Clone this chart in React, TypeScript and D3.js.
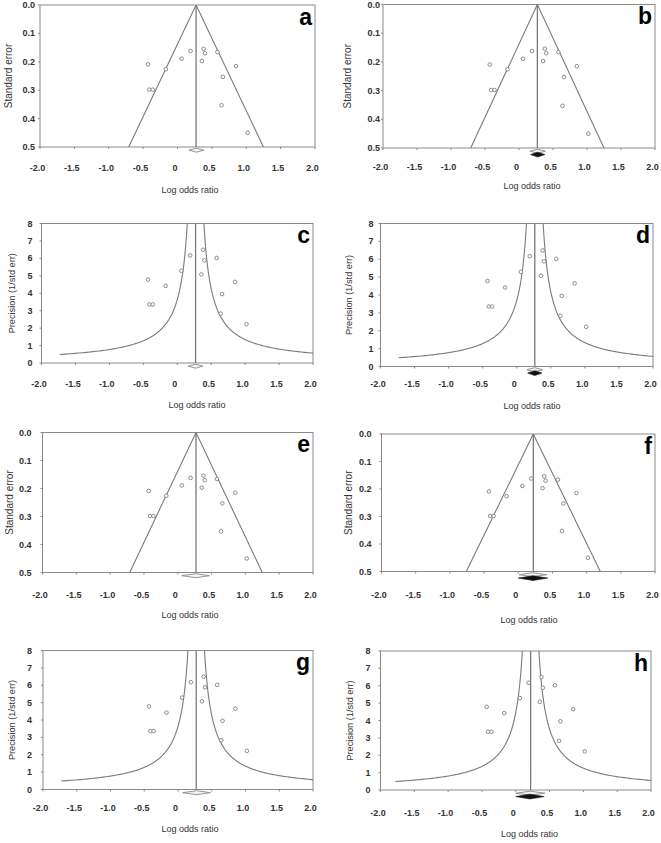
import React from "react";
import * as d3 from "d3";

// ---- data ----
const studyLogOddsRatio = [-0.43, -0.17, -0.41, -0.36, 0.06, 0.19, 0.38, 0.40, 0.355, 0.58, 0.85, 0.66, 0.64, 1.02];
const studyStdError = [0.209, 0.226, 0.298, 0.298, 0.189, 0.162, 0.154, 0.170, 0.197, 0.166, 0.215, 0.253, 0.353, 0.450];

const xTicks = [-2, -1.5, -1, -0.5, 0, 0.5, 1, 1.5, 2];
const xTickLabels = ["-2.0", "-1.5", "-1.0", "-0.5", "0", "0.5", "1.0", "1.5", "2.0"];
const seTicks = [0, 0.1, 0.2, 0.3, 0.4, 0.5];
const seTickLabels = ["0.0", "0.1", "0.2", "0.3", "0.4", "0.5"];
const precTicks = [0, 1, 2, 3, 4, 5, 6, 7, 8];
const precTickLabels = ["0", "1", "2", "3", "4", "5", "6", "7", "8"];

const panelLetters = ["a", "b", "c", "d", "e", "f", "g", "h"];
const panelTypes = ["se", "se", "prec", "prec", "se", "se", "prec", "prec"];
const pooledEstimate = [0.27, 0.27, 0.27, 0.265, 0.27, 0.22, 0.27, 0.22];
const observedCI = [[0.165, 0.385], [0.16, 0.39], [0.16, 0.38], [0.15, 0.38], [0.06, 0.47], [0.01, 0.415], [0.07, 0.48], [0.0, 0.43]];
const adjustedCI = [null, [0.17, 0.38], null, [0.16, 0.37], null, [0.0, 0.43], null, [0.0, 0.42]];

const xTitle = "Log odds ratio";
const seTitle = "Standard error";
const precTitle = "Precision (1/std err)";

// ---- layout (pixel positions per panel) ----
const layout = [
  { L: 40, T: 5, R: 315, B: 147, tickY: 168, titleX: 190, titleY: 190, ylabX: 8, gap: 5 },
  { L: 383, T: 4.5, R: 655, B: 148, tickY: 167, titleX: 532, titleY: 186, ylabX: 347, gap: 3 },
  { L: 41.5, T: 223.5, R: 313, B: 363, tickY: 384, titleX: 197, titleY: 405, ylabX: 12, gap: 9 },
  { L: 380.5, T: 223.5, R: 653, B: 366.5, tickY: 384, titleX: 532, titleY: 406, ylabX: 349, gap: 7 },
  { L: 42.5, T: 432.5, R: 313, B: 572.5, tickY: 595, titleX: 190, titleY: 615, ylabX: 9, gap: 11 },
  { L: 381.5, T: 434, R: 655, B: 571.5, tickY: 595, titleX: 529, titleY: 620, ylabX: 348, gap: 10 },
  { L: 43, T: 650.5, R: 313, B: 789.5, tickY: 808, titleX: 190, titleY: 829, ylabX: 12, gap: 11 },
  { L: 380.5, T: 651, R: 651, B: 790, tickY: 813, titleX: 529.5, titleY: 834, ylabX: 350, gap: 10 },
];

const FONT = "'Liberation Sans', Arial, sans-serif";
const LINE = "#7a7a7a";
const FRAME = "#8a8a8a";
const TEXT = "#333";

function diamondPath(x: d3.ScaleLinear<number, number>, lo: number, hi: number, y: number, h: number) {
  const mid = (lo + hi) / 2;
  return `M${x(lo)},${y}L${x(mid)},${y - h}L${x(hi)},${y}L${x(mid)},${y + h}Z`;
}

function Panel({ i }: { i: number }) {
  const lay = layout[i];
  const type = panelTypes[i];
  const c = pooledEstimate[i];
  const x = d3.scaleLinear().domain([-2, 2]).range([lay.L, lay.R]);
  const y =
    type === "se"
      ? d3.scaleLinear().domain([0, 0.5]).range([lay.T, lay.B])
      : d3.scaleLinear().domain([0, 8]).range([lay.B, lay.T]);
  const ticks = type === "se" ? seTicks : precTicks;
  const tickLabels = type === "se" ? seTickLabels : precTickLabels;
  const clipId = `clip-${i}`;

  let funnel: string[] = [];
  if (type === "se") {
    const line = d3.line<[number, number]>().x((d) => x(d[0])).y((d) => y(d[1]));
    funnel = [line([[c - 1.96 * 0.5, 0.5], [c, 0], [c + 1.96 * 0.5, 0.5]]) || ""];
  } else {
    const ps = d3.range(0.49, 8.6, 0.02);
    const k = 0.98;
    const left = d3.line<number>().x((p) => x(c - k / p)).y((p) => y(p));
    const right = d3.line<number>().x((p) => x(c + k / p)).y((p) => y(p));
    funnel = [left(ps) || "", right(ps) || ""];
  }

  const points = studyLogOddsRatio.map((lor, j) => ({
    cx: x(lor),
    cy: type === "se" ? y(studyStdError[j]) : y(1 / studyStdError[j]),
  }));

  const obs = observedCI[i];
  const adj = adjustedCI[i];

  return (
    <g>
      <defs>
        <clipPath id={clipId}>
          <rect x={lay.L} y={lay.T} width={lay.R - lay.L} height={lay.B - lay.T} />
        </clipPath>
      </defs>
      <rect x={lay.L} y={lay.T} width={lay.R - lay.L} height={lay.B - lay.T} fill="white" stroke={FRAME} strokeWidth={1} />
      {xTicks.map((t, j) => (
        <g key={"xt" + j}>
          <line x1={x(t)} x2={x(t)} y1={lay.B} y2={lay.B + 2} stroke={FRAME} strokeWidth={1} />
          <text x={x(t) - 2.5} y={lay.tickY} textAnchor="middle" dominantBaseline="central" fontFamily={FONT} fontSize={9} fontWeight="bold" fill={TEXT}>
            {xTickLabels[j]}
          </text>
        </g>
      ))}
      {ticks.map((t, j) => (
        <g key={"yt" + j}>
          <line x1={lay.L - 2} x2={lay.L} y1={y(t)} y2={y(t)} stroke={FRAME} strokeWidth={1} />
          <text x={lay.L - lay.gap} y={y(t)} textAnchor="end" dominantBaseline="central" fontFamily={FONT} fontSize={9} fontWeight="bold" fill={TEXT}>
            {tickLabels[j]}
          </text>
        </g>
      ))}
      <g clipPath={`url(#${clipId})`}>
        {funnel.map((dd, j) => (
          <path key={"f" + j} d={dd} fill="none" stroke={LINE} strokeWidth={1.1} />
        ))}
        <line x1={x(c)} x2={x(c)} y1={lay.T} y2={lay.B} stroke={LINE} strokeWidth={1.3} />
      </g>
      {points.map((p, j) => (
        <circle key={"p" + j} cx={p.cx} cy={p.cy} r={1.8} fill="white" stroke="#808080" strokeWidth={0.9} />
      ))}
      <path d={diamondPath(x, obs[0], obs[1], lay.B + 3.2, 2)} fill="#f4f4f4" stroke="#8a8a8a" strokeWidth={0.9} />
      {adj && <path d={diamondPath(x, adj[0], adj[1], lay.B + 6.6, 2.4)} fill="#111" stroke="#111" strokeWidth={0.6} />}
      <text x={lay.R - 3} y={lay.T + 19.5} textAnchor="end" fontFamily={FONT} fontSize={23} fontWeight="bold" fill="#000">
        {panelLetters[i]}
      </text>
      <text x={lay.titleX} y={lay.titleY} textAnchor="middle" dominantBaseline="central" fontFamily={FONT} fontSize={9} fill={TEXT}>
        {xTitle}
      </text>
      <text
        transform={`translate(${lay.ylabX},${(lay.T + lay.B) / 2}) rotate(-90)`}
        textAnchor="middle"
        dominantBaseline="central"
        fontFamily={FONT}
        fontSize={type === "se" ? 10 : 9.2}
        fill={TEXT}
      >
        {type === "se" ? seTitle : precTitle}
      </text>
    </g>
  );
}

export default function App() {
  return (
    <svg width={661} height={843} style={{ position: "absolute", left: 0, top: 0, background: "white" }}>
      <rect width={661} height={843} fill="white" />
      {panelLetters.map((_, i) => (
        <Panel key={i} i={i} />
      ))}
    </svg>
  );
}
